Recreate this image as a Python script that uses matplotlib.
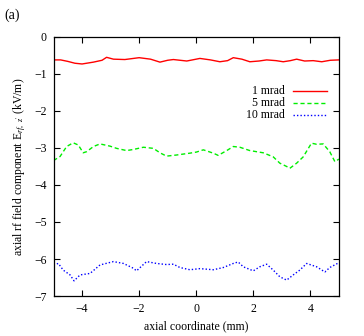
import matplotlib
matplotlib.use("Agg")
import matplotlib.pyplot as plt

plt.rcParams["font.family"] = ["Liberation Serif", "DejaVu Serif"]
plt.rcParams["mathtext.fontset"] = "custom"
plt.rcParams["mathtext.rm"] = "Liberation Serif"
plt.rcParams["mathtext.it"] = "Liberation Serif:italic"

# 1 mrad
x_1 = [-5.0, -4.75, -4.5, -4.25, -4.0, -3.6, -3.3, -3.14, -2.9, -2.5, -2.0, -1.6,
       -1.27, -1.0, -0.8, -0.33, 0.13, 0.5, 0.83, 1.1, 1.3, 1.6, 1.88, 2.2, 2.47,
       2.8, 3.05, 3.3, 3.52, 3.8, 4.1, 4.4, 4.7, 5.0]
y_1 = [-0.62, -0.62, -0.66, -0.71, -0.73, -0.68, -0.63, -0.55, -0.60, -0.61, -0.56,
       -0.60, -0.68, -0.63, -0.61, -0.65, -0.58, -0.62, -0.67, -0.64, -0.56, -0.60,
       -0.67, -0.65, -0.62, -0.64, -0.67, -0.64, -0.60, -0.65, -0.64, -0.67, -0.63, -0.62]

# 5 mrad
x_5 = [-5.0, -4.77, -4.54, -4.31, -4.13, -3.96, -3.84, -3.6, -3.37, -3.02, -2.79,
       -2.44, -2.2, -1.85, -1.5, -1.27, -1.04, -0.69, -0.22, 0.01, 0.25, 0.6, 0.77,
       1.07, 1.3, 1.53, 1.88, 2.35, 2.7, 2.93, 3.17, 3.28, 3.52, 3.75, 4.04, 4.22,
       4.45, 4.68, 4.86, 5.0]
y_5 = [-3.34, -3.23, -2.96, -2.86, -2.92, -3.13, -3.10, -2.96, -2.89, -2.95, -3.01,
       -3.07, -3.04, -2.98, -3.01, -3.13, -3.22, -3.19, -3.14, -3.11, -3.05, -3.14,
       -3.20, -3.07, -2.96, -2.98, -3.07, -3.13, -3.24, -3.41, -3.50, -3.55, -3.41,
       -3.24, -2.87, -2.90, -2.89, -3.10, -3.37, -3.30]

# 10 mrad
x_10 = [-5.0, -4.83, -4.66, -4.42, -4.28, -4.07, -3.72, -3.37, -2.9, -2.55, -2.2,
        -2.09, -1.74, -1.39, -1.04, -0.8, -0.57, -0.22, 0.13, 0.6, 0.95, 1.3, 1.47,
        1.65, 2.0, 2.23, 2.47, 2.7, 2.93, 3.17, 3.4, 3.63, 3.87, 4.22, 4.51, 4.68, 5.0]
y_10 = [-6.16, -6.12, -6.30, -6.43, -6.59, -6.43, -6.39, -6.16, -6.07, -6.12, -6.25,
        -6.32, -6.07, -6.12, -6.15, -6.14, -6.23, -6.29, -6.26, -6.29, -6.23, -6.12,
        -6.08, -6.21, -6.32, -6.21, -6.14, -6.30, -6.48, -6.57, -6.43, -6.30, -6.12,
        -6.21, -6.35, -6.23, -6.10]

series = [
    ("1 mrad", x_1, y_1, "#ff0000", "-"),
    ("5 mrad", x_5, y_5, "#00ee00", (0, (3, 2))),
    ("10 mrad", x_10, y_10, "#0000ff", (0, (1, 1.5))),
]

fig = plt.figure(figsize=(3.64, 3.36), dpi=100)
ax = fig.add_axes([0.147, 0.119, 0.784, 0.771])

# gnuplot style key: right-aligned text, sample line to its right
key_rows = [0.792, 0.745, 0.699]
for (label, xs, ys, color, style), row in zip(series, key_rows):
    ax.plot(xs, ys, color=color, lw=1.0, ls=style)
    ax.plot([0.839, 0.958], [row, row], color=color, lw=1.0, ls=style,
            transform=ax.transAxes, clip_on=False)
    ax.text(0.811, row, label, transform=ax.transAxes, ha="right", va="center",
            fontsize=8.5)

ax.set_xlim(-5, 5)
ax.set_ylim(-7, 0)
ax.set_xticks([-4, -2, 0, 2, 4])
ax.set_yticks([0, -1, -2, -3, -4, -5, -6, -7])
ax.tick_params(direction="in", top=True, right=True, length=4, width=0.8,
               labelsize=8.5, pad=5)
for s in ax.spines.values():
    s.set_linewidth(0.9)

ax.set_xlabel("axial coordinate (mm)", fontsize=8.5, labelpad=4)
ax.set_ylabel(r"axial rf field component E$_{rf,\ z'}$ (kV/m)", fontsize=8.5, labelpad=4)

fig.text(0.012, 0.955, "(a)", fontsize=10, va="center", ha="left")

fig.savefig("out.png", dpi=100)
